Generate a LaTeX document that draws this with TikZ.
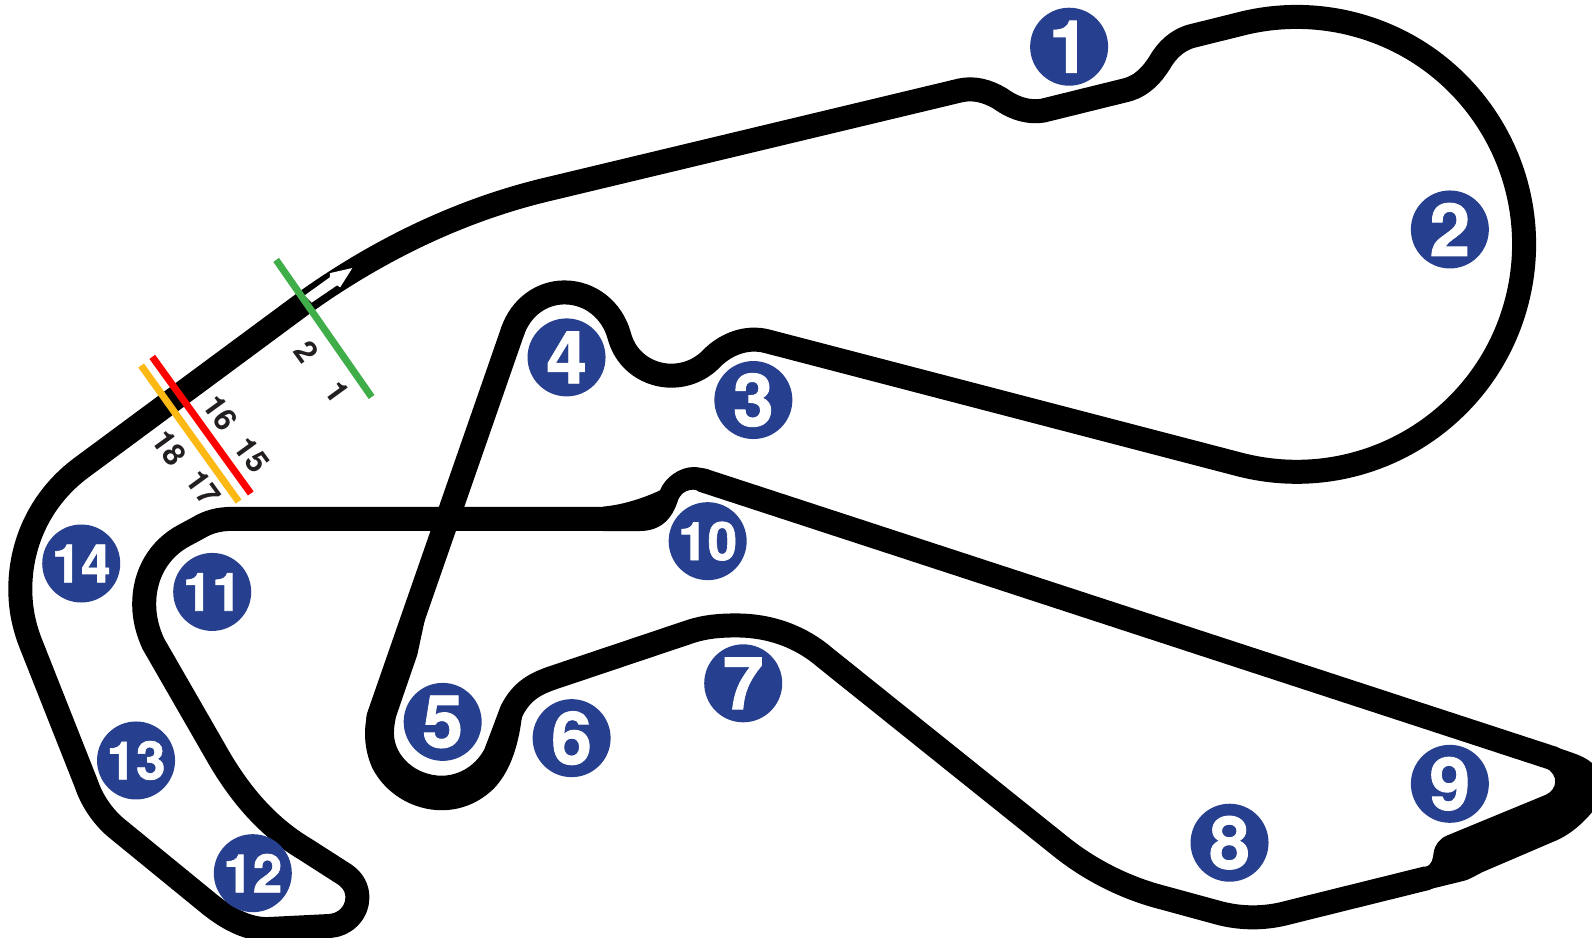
\documentclass[tikz,border=0pt]{standalone}
\usepackage{fontspec}
\setmainfont{Liberation Sans}
\newfontfamily\turnfont{TeX Gyre Heros}[BoldFeatures={FakeBold=1.2}]
\newfontfamily\seclabelfont{TeX Gyre Heros}
\definecolor{turnblue}{HTML}{263F8E}
\definecolor{labeldark}{HTML}{231F20}
\definecolor{sectorgreen}{HTML}{3FAE49}
\definecolor{sectorred}{HTML}{FF0000}
\definecolor{sectororange}{HTML}{FDB913}
\tikzset{
  trackline/.style={line width=24pt,line join=round,line cap=round,black},
  trackfill/.style={fill=black,draw=none},
  turn/.style={circle,fill=turnblue,minimum size=78pt,inner sep=0pt,text=white,font=\turnfont\bfseries\fontsize{73}{80}\selectfont},
  turnsmall/.style={turn,font=\turnfont\bfseries\fontsize{53}{60}\selectfont},
  sector/.style={line width=7pt},
  seclabel/.style={rotate=-54,inner sep=0pt,text=labeldark,font=\seclabelfont\bfseries\fontsize{31}{34}\selectfont}
}
\begin{document}
\begin{tikzpicture}[x=1.0153pt,y=-1.0153pt]
\useasboundingbox (0,0) rectangle (1568,923);
\fill[white] (0,0) rectangle (1568,923);
\clip (0,0) rectangle (1568,923);
% strand 4 to 5, passes under
\draw[trackline] (505,326) -- (372.5,707);
\fill[trackfill] (447,524) -- (420,603) -- (411,645) -- (390,706) -- (375,706) -- (425,530) -- cycle;
% main strand
\draw[trackline] (505,326) .. controls (513,303) and (533,288) .. (556,288)
  .. controls (581,288) and (603,305) .. (610,331)
  .. controls (617,357) and (640,370) .. (661,370)
  .. controls (680,370) and (694,361) .. (703,351)
  .. controls (716,339) and (735,331) .. (755,336)
  -- (1221,457.5) arc[start angle=104.5,end angle=-104.5,radius=224]
  -- (1172,36) .. controls (1160,40) and (1150,48) .. (1142,62)
  .. controls (1135,73) and (1125,85) .. (1108,89)
  -- (1027,109) .. controls (1015,111) and (1000,108) .. (985,97)
  .. controls (973,90) and (960,86) .. (946,89)
  -- (537,187) .. controls (450,208) and (370,248) .. (300,298)
  -- (81,460) .. controls (40,490) and (20,535) .. (20,580)
  .. controls (20,598) and (23,615) .. (30,633)
  -- (85,772) .. controls (90,787) and (100,803) .. (114,815)
  -- (207,891) .. controls (222,903) and (243,916) .. (265,915)
  -- (325,912) .. controls (340,911) and (352,899) .. (352,884)
  .. controls (352,875) and (348,867) .. (339,861)
  -- (300,836) .. controls (270,818) and (240,790) .. (212,740)
  -- (151,634) .. controls (146,623) and (142,610) .. (142,595)
  .. controls (142,565) and (157,540) .. (182,527)
  -- (195,520) .. controls (205,514) and (215,511) .. (230,511)
  -- (630,511);
% bottom loop at 5
\fill[trackfill] (362,703) .. controls (357,722) and (360,742) .. (367,757)
  .. controls (380,782) and (407,798) .. (435,798)
  .. controls (455,798) and (473,790) .. (487,776)
  .. controls (500,762) and (510,740) .. (514,706)
  -- (495,696) -- (478,736)
  .. controls (470,753) and (453,764) .. (435,764)
  .. controls (410,764) and (388,745) .. (388,722)
  .. controls (388,716) and (389,711) .. (390,706) -- cycle;
% 5 to 9
\draw[trackline] (489,740) -- (504,700) .. controls (514,680) and (528,673) .. (546,667)
  -- (680,622) .. controls (695,617) and (710,616) .. (725,616)
  .. controls (760,616) and (790,628) .. (813,648)
  -- (1045,834) .. controls (1075,858) and (1110,875) .. (1145,884)
  -- (1200,899) .. controls (1222,905) and (1246,905) .. (1268,899)
  -- (1405,865);
% 9 to 10
\draw[trackline] (1530,747) -- (692,473);
% hairpin at 9
\fill[trackfill] (1404,854) .. controls (1411,851) and (1411,846) .. (1412,840)
  .. controls (1413,832) and (1418,826) .. (1425,823)
  -- (1522,783) .. controls (1534,778) and (1536,763) .. (1522,756)
  -- (1530,735) -- (1549,741.5) .. controls (1556,744) and (1563,747) .. (1568,751.5)
  -- (1568,800) .. controls (1558,812) and (1545,823) .. (1530,829)
  -- (1460,859) .. controls (1452,863) and (1446,867) .. (1440,868)
  -- (1395,879) -- cycle;
% bump at 10
\fill[trackfill] (594,499) .. controls (615,497) and (635,490) .. (650,483)
  .. controls (655,470) and (670,460) .. (683,460)
  .. controls (689,460) and (694,461.5) .. (699,463)
  -- (692,484)
  .. controls (684,481) and (673,481) .. (668,492)
  .. controls (662,512) and (650,523) .. (630,523)
  -- (594,523) -- cycle;
% start arrow
\fill[white] (300,291) -- (325,273) -- (325,269) -- (347,264) -- (335,283) -- (332,281) -- (307,298) -- cycle;
% sector lines
\coordinate (g1) at (272,256); \coordinate (g2) at (366,391);
\coordinate (r1) at (150,351.5); \coordinate (r2) at (247,486);
\coordinate (o1) at (139,360); \coordinate (o2) at (235,494);
\draw[sector,sectororange] (o1) -- (o2);
\draw[sector,sectorred] (r1) -- (r2);
\draw[sector,sectorgreen] (g1) -- (g2);
% sector labels
\node[seclabel] (s2) at (302,347) {2};
\node[seclabel] (s1) at (332,386) {1};
\node[seclabel] (s16) at (217,407) {16};
\node[seclabel] (s15) at (248,448) {15};
\node[seclabel] (s18) at (167,441) {18};
\node[seclabel] (s17) at (200,481) {17};
% turns
\node[turn] (t1) at (1053,46) {1};
\node[turn] (t2) at (1428,226) {2};
\node[turn] (t3) at (742,394) {3};
\node[turn] (t4) at (558,352) {4};
\node[turn] (t5) at (436,711) {5};
\node[turn] (t6) at (563,727) {6};
\node[turn] (t7) at (732,673) {7};
\node[turn] (t8) at (1211,830) {8};
\node[turn] (t9) at (1428,772) {9};
\node[turnsmall] (t10) at (697,533) {10};
\node[turnsmall] (t11) at (209,583) {11};
\node[turnsmall] (t12) at (249,860) {12};
\node[turnsmall] (t13) at (134,749) {13};
\node[turnsmall] (t14) at (80,555) {14};
\end{tikzpicture}
\end{document}
